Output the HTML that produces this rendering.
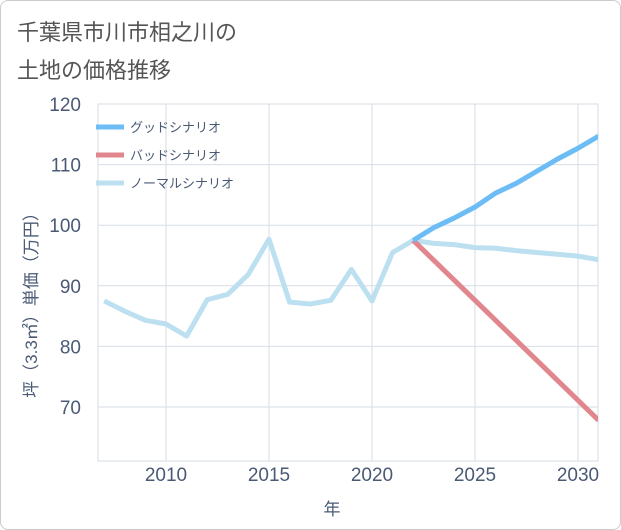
<!DOCTYPE html>
<html><head><meta charset="utf-8"><style>
body{margin:0;background:#fff;}
#card{position:absolute;left:0;top:0;width:619px;height:528px;border:1px solid #ccc;border-radius:8px;background:#fff;overflow:hidden;}
.title{position:absolute;left:16px;font:22px "Liberation Sans","Noto Sans CJK JP",sans-serif;color:#555;}
svg text{font-family:"Liberation Sans","Noto Sans CJK JP",sans-serif;}
</style></head><body>
<div id="card">
<div class="title" style="top:14px">千葉県市川市相之川の</div>
<div class="title" style="top:52px">土地の価格推移</div>
<svg id="chart" width="621" height="530" style="position:absolute;left:0;top:0"></svg>
</div>
<script>
const normalYears=[2007,2008,2009,2010,2011,2012,2013,2014,2015,2016,2017,2018,2019,2020,2021,2022,2023,2024,2025,2026,2027,2028,2029,2030,2031];
const normalValues=[87.5,85.8,84.3,83.7,81.7,87.7,88.6,91.9,97.7,87.3,87.0,87.6,92.7,87.5,95.5,97.5,97.0,96.8,96.3,96.2,95.8,95.5,95.2,94.9,94.3];
const futureYears=[2022,2023,2024,2025,2026,2027,2028,2029,2030,2031];
const goodValues=[97.5,99.6,101.2,103.0,105.3,106.9,108.9,110.9,112.7,114.7];
const badValues=[97.5,94.2,90.9,87.6,84.3,81.0,77.7,74.4,71.1,67.8];
const yTicks=[70,80,90,100,110,120];
const xTicks=[2010,2015,2020,2025,2030];
const legendLabels=['グッドシナリオ','バッドシナリオ','ノーマルシナリオ'];
const NS='http://www.w3.org/2000/svg';
const svg=document.getElementById('chart');
const L=97,R=597,T=103,B=460;
const x=v=>165+(v-2010)*20.6;
const y=v=>103+(120-v)*6.06;
function mk(t,a){const e=document.createElementNS(NS,t);for(const k in a)e.setAttribute(k,a[k]);svg.appendChild(e);return e;}
let e;
e=mk('rect',{x:L,y:T,width:R-L,height:B-T,fill:'none',stroke:'#d6dde6'});


yTicks.forEach(v=>{
 e=mk('line',{x1:L,x2:R,y1:y(v),y2:y(v),stroke:'#d6dde6'});
 
 
 e=mk('text',{x:80,y:y(v)+7,'text-anchor':'end','font-size':'19',fill:'#4a5a75'});e.textContent=v;
 
 
});
xTicks.forEach(v=>{
 e=mk('line',{x1:x(v),x2:x(v),y1:T,y2:B,stroke:'#d6dde6'});
 
 
 e=mk('text',{x:x(v),y:480,'text-anchor':'middle','font-size':'19',fill:'#4a5a75'});e.textContent=v;
 
 
});
e=mk('text',{x:331,y:514,'text-anchor':'middle','font-size':'17',fill:'#4a5a75'});e.textContent='年';


e=mk('text',{x:0,y:0,'text-anchor':'middle','font-size':'17',fill:'#4a5a75',transform:'translate(36,300) rotate(-90)'});e.textContent='坪（3.3㎡）単価（万円）';


function series(xs,ys,color,name){
 const p=xs.map((v,i)=>x(v)+','+y(ys[i])).join(' ');
 const el=mk('polyline',{points:p,fill:'none',stroke:color,'stroke-width':5,'stroke-linejoin':'round'});
 
 
}
const defs=mk('clipPath',{id:'c'});
const cr=document.createElementNS(NS,'rect');cr.setAttribute('x',L);cr.setAttribute('y',T);cr.setAttribute('width',R-L);cr.setAttribute('height',B-T);defs.appendChild(cr);
series(normalYears,normalValues,'#bde0f0','normal-scenario-line');
series(futureYears,badValues,'#e0868c','bad-scenario-line');
series(futureYears,goodValues,'#6cbcf5','good-scenario-line');
svg.querySelectorAll('polyline').forEach(p=>p.setAttribute('clip-path','url(#c)'));
const lc=['#6cbcf5','#e0868c','#bde0f0'];
legendLabels.forEach((t,i)=>{
 const yy=126+i*28;
 e=mk('line',{x1:95,x2:123,y1:yy,y2:yy,stroke:lc[i],'stroke-width':5});
 
 
 e=mk('text',{x:129,y:yy+5,'font-size':'13',fill:'#4a5a75'});e.textContent=t;
 
 
});
</script>
</body></html>
